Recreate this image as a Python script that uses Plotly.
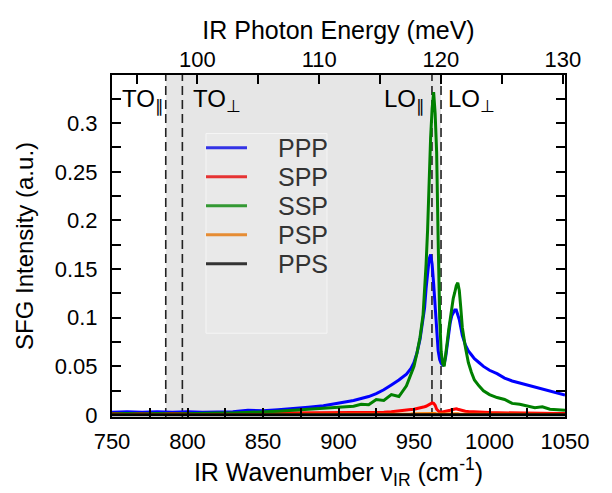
import plotly.graph_objects as go

# ---------------- data ----------------
wavenumber = [750, 760, 770, 780, 790, 800, 810, 820, 830, 840, 850, 860, 870, 880, 890, 900,
              905, 910, 915, 920, 925, 930, 935, 940, 945,
              946, 948, 950, 952, 954, 956,
              957, 958, 959, 960, 961, 962, 963, 964, 965, 966, 967, 968, 969, 970,
              971, 972, 973, 974, 975, 976, 977, 978, 979, 980, 981, 982,
              984, 986, 988, 990, 993, 996, 1000,
              1005, 1010, 1015, 1020, 1025, 1030, 1035, 1040, 1045, 1050]

ppp = [0.003, 0.0035, 0.003, 0.0035, 0.003, 0.0035, 0.003, 0.0035, 0.0035, 0.005, 0.0045, 0.0055, 0.0065, 0.008, 0.0095, 0.012,
       0.0135, 0.015, 0.017, 0.019, 0.022, 0.026, 0.031, 0.036, 0.042,
       0.044, 0.048, 0.054, 0.064, 0.078, 0.098,
       0.11, 0.13, 0.148, 0.16, 0.165, 0.155, 0.135, 0.11, 0.085, 0.066, 0.057, 0.053, 0.0515, 0.053,
       0.06, 0.072, 0.085, 0.095, 0.102, 0.106, 0.108, 0.108, 0.104, 0.098, 0.09, 0.082,
       0.072, 0.066, 0.062, 0.058, 0.054, 0.05, 0.046,
       0.0425, 0.038, 0.035, 0.033, 0.031, 0.029, 0.027, 0.025, 0.023, 0.0205]

spp = [0.0015, 0.0012, 0.0016, 0.0013, 0.0015, 0.0012, 0.0016, 0.0014, 0.0015, 0.0016, 0.0017, 0.0016, 0.0018, 0.0019, 0.002, 0.002,
       0.0021, 0.0023, 0.0024, 0.0025, 0.0027, 0.003, 0.0034, 0.004, 0.005,
       0.0052, 0.0056, 0.006, 0.0065, 0.007, 0.008,
       0.0085, 0.009, 0.01, 0.011, 0.012, 0.0125, 0.012, 0.01, 0.006, 0.004, 0.003, 0.003, 0.0032, 0.0035,
       0.0037, 0.004, 0.0045, 0.005, 0.0055, 0.006, 0.0065, 0.0065, 0.006, 0.0055, 0.005, 0.0048,
       0.004, 0.0036, 0.0034, 0.003, 0.0028, 0.0027, 0.0025,
       0.0024, 0.0022, 0.0021, 0.002, 0.0019, 0.0018, 0.0017, 0.0016, 0.0016, 0.0015]

ssp = [0.001, 0.0015, 0.001, 0.0015, 0.001, 0.0015, 0.002, 0.002, 0.002, 0.0025, 0.003, 0.004, 0.005, 0.006, 0.0065, 0.008,
       0.0085, 0.009, 0.011, 0.0105, 0.016, 0.015, 0.021, 0.019, 0.03,
       0.034, 0.04, 0.05, 0.064, 0.08, 0.103,
       0.125, 0.155, 0.19, 0.24, 0.285, 0.315, 0.332, 0.31, 0.27, 0.18, 0.1, 0.065, 0.053, 0.05,
       0.06, 0.075, 0.088, 0.1, 0.112, 0.12, 0.126, 0.133, 0.136, 0.128, 0.11, 0.09,
       0.07, 0.054, 0.044, 0.036, 0.03, 0.025, 0.021,
       0.018, 0.016, 0.012, 0.011, 0.0095, 0.0075, 0.0085, 0.006, 0.0055, 0.005]

psp = [0.0005, 0.0004, 0.0005, 0.0004, 0.0005, 0.0004, 0.0005, 0.0005, 0.0005, 0.0005, 0.0005, 0.0006, 0.0006, 0.0006, 0.0007, 0.0007,
       0.0007, 0.0008, 0.0008, 0.0008, 0.0009, 0.0009, 0.001, 0.001, 0.0011,
       0.0011, 0.0012, 0.0013, 0.0014, 0.0015, 0.0016,
       0.0017, 0.0018, 0.0019, 0.002, 0.002, 0.002, 0.0018, 0.0015, 0.0012, 0.001, 0.001, 0.001, 0.001, 0.0011,
       0.0012, 0.0013, 0.0014, 0.0015, 0.0015, 0.0015, 0.0015, 0.0014, 0.0013, 0.0012, 0.0012, 0.0011,
       0.001, 0.001, 0.0009, 0.0009, 0.0008, 0.0008, 0.0007,
       0.0007, 0.0006, 0.0006, 0.0006, 0.0005, 0.0005, 0.0005, 0.0005, 0.0005, 0.0005]

pps = [0.0002] * len(wavenumber)

series_names = ["PPP", "SPP", "SSP", "PSP", "PPS"]
series_values = [ppp, spp, ssp, psp, pps]
series_colors = ["#0000ff", "#ff0000", "#008000", "#ff8000", "#000000"]
legend_colors = ["#3333e6", "#e63333", "#339933", "#e68c33", "#333333"]

# phonon mode positions (cm^-1)
mode_labels = ["TO<sub>∥</sub>", "TO<sub>⊥</sub>", "LO<sub>∥</sub>", "LO<sub>⊥</sub>"]
mode_positions = [785.6, 796.6, 961.9, 967.9]
mode_label_x = [755.0, 802.0, 929.0, 971.5]

x_range = [750, 1050]
y_range = [-0.002, 0.3495]
CM_TO_MEV = 0.12398419843

FONT = "Liberation Sans, Arial, Helvetica, sans-serif"

fig = go.Figure()
for name, vals, col in zip(series_names, series_values, series_colors):
    fig.add_trace(go.Scatter(x=wavenumber, y=vals, mode="lines", name=name,
                             line=dict(color=col, width=3), showlegend=False))

# dummy trace for the top axis
fig.add_trace(go.Scatter(x=[x_range[0] * CM_TO_MEV, x_range[1] * CM_TO_MEV], y=[None, None],
                         xaxis="x2", yaxis="y", showlegend=False, hoverinfo="skip"))

# legend box geometry (paper fractions)
LEG_X0, LEG_X1, LEG_Y0, LEG_Y1 = 0.2075, 0.4746, 0.245, 0.829
LEG_ROW0, LEG_DY = 0.787, 0.0847
LEG_LINE_X0, LEG_LINE_X1, LEG_TEXT_X = 0.2075, 0.298, 0.362

shapes = [
    dict(type="rect", xref="x", yref="paper", x0=mode_positions[0], x1=mode_positions[3], y0=0, y1=1,
         fillcolor="#e6e6e6", line=dict(width=0), layer="below"),
    dict(type="rect", xref="paper", yref="paper", x0=LEG_X0, x1=LEG_X1, y0=LEG_Y0, y1=LEG_Y1,
         fillcolor="#e9e9e9", line=dict(color="#f5f5f5", width=1), layer="below"),
]
for p in mode_positions:
    shapes.append(dict(type="line", xref="x", yref="paper", x0=p, x1=p, y0=0, y1=1,
                       line=dict(color="#222222", width=1.6, dash="9px,5px"), layer="below"))

annotations = []
for lab, lx in zip(mode_labels, mode_label_x):
    annotations.append(dict(x=lx, y=0.323, xref="x", yref="y", text=lab, showarrow=False,
                            xanchor="left", yanchor="middle",
                            font=dict(family=FONT, size=24, color="black")))

# legend entries
for i, (name, col) in enumerate(zip(series_names, legend_colors)):
    yy = LEG_ROW0 - i * LEG_DY
    shapes.append(dict(type="line", xref="paper", yref="paper", x0=LEG_LINE_X0, x1=LEG_LINE_X1,
                       y0=yy, y1=yy, line=dict(color=col, width=3)))
    annotations.append(dict(x=LEG_TEXT_X, y=yy, xref="paper", yref="paper", text=name,
                            showarrow=False, xanchor="left", yanchor="middle",
                            font=dict(family=FONT, size=25, color="#333333")))

axis_common = dict(showline=True, linecolor="black", linewidth=2, ticks="inside",
                   tickcolor="black", tickwidth=1.5, showgrid=False, zeroline=False,
                   automargin=False,
                   tickfont=dict(family=FONT, size=22, color="black"))

# the page body adds an 8px offset, so margins are shifted to compensate
fig.update_layout(
    width=612, height=493,
    margin=dict(l=104, r=55, t=67, b=84),
    paper_bgcolor="white", plot_bgcolor="white",
    font=dict(family=FONT, color="black"),
    showlegend=False,
    xaxis=dict(range=x_range, tickmode="linear", tick0=750, dtick=50, ticklen=9,
               minor=dict(dtick=25, ticks="inside", ticklen=9, tickcolor="black", tickwidth=1.5),
               ticklabelstandoff=4,
               title=dict(text="IR Wavenumber ν<sub>IR</sub> (cm<sup>-1</sup>)",
                          font=dict(family=FONT, size=25), standoff=5),
               **axis_common),
    xaxis2=dict(range=[x_range[0] * CM_TO_MEV, x_range[1] * CM_TO_MEV], overlaying="x", side="top",
                anchor="y", tickmode="linear", tick0=0, dtick=10, ticklen=9,
                minor=dict(dtick=5, ticks="inside", ticklen=9, tickcolor="black", tickwidth=1.5),
                ticklabelstandoff=-3,
                title=dict(text="IR Photon Energy (meV)", font=dict(family=FONT, size=25), standoff=0),
                **axis_common),
    yaxis=dict(range=y_range, tickmode="linear", tick0=0, dtick=0.05, ticklen=9, mirror="ticks",
               minor=dict(dtick=0.025, ticks="inside", ticklen=9, tickcolor="black", tickwidth=1.5),
               ticklabelstandoff=8,
               title=dict(text="SFG Intensity (a.u.)", font=dict(family=FONT, size=24), standoff=14),
               **axis_common),
    shapes=shapes,
    annotations=annotations,
)

fig.write_html("out.html")
